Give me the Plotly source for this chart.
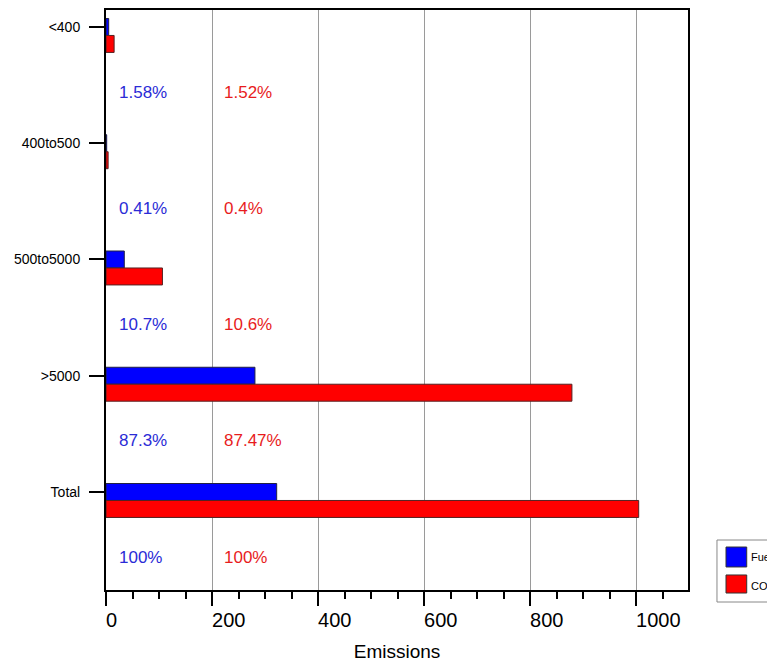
import plotly.graph_objects as go

categories = ["<400", "400to500", "500to5000", ">5000", "Total"]
fuel_values = [5.1, 1.3, 34.5, 281, 322]
co2_values = [15.3, 4.0, 106.5, 879, 1005]
fuel_pct_labels = ["1.58%", "0.41%", "10.7%", "87.3%", "100%"]
co2_pct_labels = ["1.52%", "0.4%", "10.6%", "87.47%", "100%"]
x_ticks = [0, 200, 400, 600, 800, 1000]
series_names = ["Fuel", "CO2"]
series_colors = ["#0000ff", "#ff0000"]

BAR_H = 0.146
idx = list(range(len(categories)))
font_main = "Liberation Sans, Arial, Helvetica, sans-serif"

fig = go.Figure()
fig.add_trace(go.Bar(
    name=series_names[0], orientation="h",
    x=fuel_values, y=[i for i in idx], width=BAR_H,
    marker=dict(color=series_colors[0], line=dict(color="#222244", width=1)),
))
fig.add_trace(go.Bar(
    name=series_names[1], orientation="h",
    x=co2_values, y=[i + BAR_H for i in idx], width=BAR_H,
    marker=dict(color=series_colors[1], line=dict(color="#552222", width=1)),
))

for i in idx:
    fig.add_annotation(x=20, y=i + 0.56, text=fuel_pct_labels[i], showarrow=False,
                       xanchor="left", yanchor="middle",
                       font=dict(family=font_main, size=17, color="#2b2bd6"))
    fig.add_annotation(x=218, y=i + 0.56, text=co2_pct_labels[i], showarrow=False,
                       xanchor="left", yanchor="middle",
                       font=dict(family=font_main, size=17, color="#e81c1c"))

# manual legend (partly outside the visible window, as in the reference)
shapes = [dict(type="rect", xref="paper", yref="paper", x0=1.0498, x1=1.30,
               y0=-0.0207, y1=0.0862, line=dict(color="#888888", width=1),
               fillcolor="white", layer="below")]
leg_rows = [(0.0741, 0.0397, 0.0574), (0.0259, -0.0052, 0.0074)]
for k, (ytop, ybot, ymid) in enumerate(leg_rows):
    shapes.append(dict(type="rect", xref="paper", yref="paper", x0=1.0653, x1=1.1009,
                       y0=ybot, y1=ytop, line=dict(color="#333333", width=1),
                       fillcolor=series_colors[k]))
    fig.add_annotation(xref="paper", yref="paper", x=1.1045, y=ymid,
                       text=series_names[k], showarrow=False, xanchor="left",
                       yanchor="middle", font=dict(family=font_main, size=11, color="black"))

fig.update_layout(
    width=775, height=661,
    margin=dict(l=98, r=95, t=2, b=79, autoexpand=False),
    plot_bgcolor="white", paper_bgcolor="white",
    barmode="overlay", showlegend=False,
    font=dict(family=font_main, color="black"),
    shapes=shapes,
)
fig.update_xaxes(
    range=[0, 1098], tickvals=x_ticks, ticks="outside", ticklen=14, tickwidth=2,
    tickcolor="black", showline=True, linecolor="black", linewidth=2, mirror=True,
    showgrid=True, gridcolor="#9a9a9a", gridwidth=1, zeroline=False,
    tickfont=dict(size=20), ticklabelposition="outside right", ticklabelshift=-2,
    ticklabelstandoff=11,
    minor=dict(dtick=50, tick0=0, ticks="outside", ticklen=7, tickwidth=1.5,
               tickcolor="black", showgrid=False),
    title=dict(text="Emissions", font=dict(size=19), standoff=15),
)
fig.update_yaxes(
    range=[4.843, -0.146], tickvals=idx, ticktext=categories, ticks="outside",
    ticklen=15, tickwidth=2, tickcolor="black", showline=True, linecolor="black",
    linewidth=2, mirror=True, showgrid=False, zeroline=False,
    tickfont=dict(size=14), ticklabelstandoff=6,
)

fig.write_html(
    "out.html",
    post_script="document.documentElement.style.overflow='hidden';"
                "document.body.style.overflow='hidden';",
)
